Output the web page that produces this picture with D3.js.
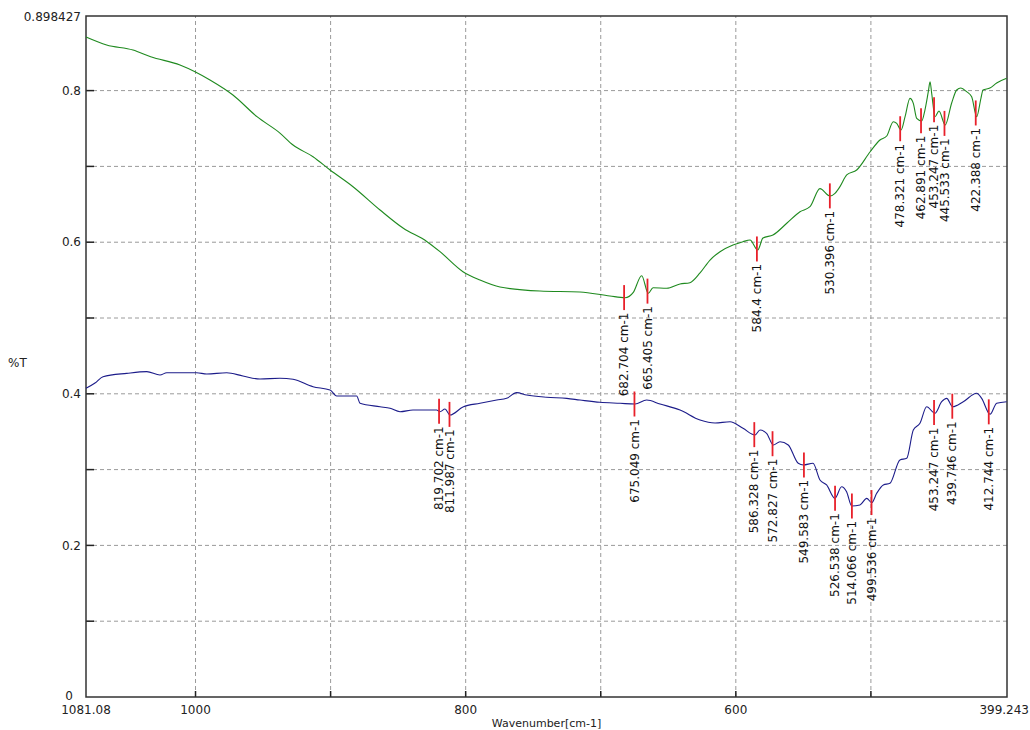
<!DOCTYPE html>
<html>
<head>
<meta charset="utf-8">
<script src="https://cdn.jsdelivr.net/npm/d3@7"></script>
<style>
body { margin: 0; background: #fff; }
svg { display: block; font-family: "DejaVu Sans", Verdana, sans-serif; }
</style>
</head>
<body>
<svg id="chart"></svg>
<script>
// spectra: [wavenumber, %T]
var greenSpectrum = [
  [1081.08,0.8707],[1065.8,0.8602],[1046.3,0.8536],[1033.2,0.8447],[1011.5,0.8338],
  [1000.4,0.8249],[989.3,0.814],[972.3,0.7942],[954.5,0.7656],[937.5,0.744],
  [927.8,0.7282],[913.0,0.7128],[900.4,0.6953],[883.4,0.6732],[863.4,0.6425],
  [846.4,0.6187],[828.6,0.6007],[819.0,0.5875],[802.0,0.5611],[789.4,0.5501],
  [774.6,0.5409],[745.0,0.5356],[715.4,0.5343],[693.2,0.529],[682.0,0.5268],
  [675.9,0.5339],[669.7,0.5558],[664.8,0.5326],[661.3,0.54],[651.2,0.5392],
  [641.3,0.5449],[634.0,0.5466],[626.5,0.5594],[619.1,0.5765],[611.7,0.5875],
  [602.1,0.5963],[594.7,0.6007],[589.5,0.6029],[583.8,0.5897],[579.9,0.6055],
  [572.5,0.6095],[562.1,0.6253],[552.5,0.6402],[545.1,0.6468],[537.7,0.6707],
  [530.3,0.661],[526.6,0.6645],[522.9,0.6733],[517.9,0.6887],[510.5,0.6953],
  [500.7,0.719],[493.3,0.7348],[488.3,0.7401],[483.4,0.759],[480.9,0.7568],
  [477.7,0.748],[474.7,0.7656],[471.1,0.7898],[468.6,0.7832],[466.1,0.7634],
  [462.4,0.7599],[460.0,0.7744],[457.5,0.7986],[456.2,0.8117],[455.0,0.7964],
  [452.5,0.7656],[449.6,0.7731],[445.0,0.7546],[440.2,0.7836],[436.5,0.8008],
  [433.4,0.8034],[429.1,0.7986],[425.4,0.792],[421.7,0.7656],[418.5,0.7902],
  [417.0,0.8008],[411.9,0.8034],[406.9,0.81],[399.5,0.8162]
];
var blueSpectrum = [
  [1081.08,0.4073],[1074.4,0.4142],[1068.5,0.4226],[1050.9,0.427],[1036.1,0.4292],
  [1026.3,0.4248],[1021.3,0.4278],[999.1,0.4278],[991.7,0.4261],[976.9,0.4278],
  [964.9,0.4235],[952.3,0.4195],[937.5,0.4205],[927.8,0.4191],[913.0,0.4094],
  [900.4,0.405],[895.5,0.3971],[880.7,0.3971],[878.2,0.3875],[863.4,0.383],
  [856.0,0.3809],[848.6,0.3764],[839.0,0.3786],[821.5,0.3786],[819.0,0.3764],
  [815.3,0.38],[811.6,0.372],[802.0,0.3826],[789.4,0.3875],[777.0,0.3918],
  [769.7,0.394],[762.3,0.4015],[754.9,0.3984],[740.1,0.3954],[725.2,0.394],
  [715.4,0.3918],[700.6,0.3888],[685.7,0.3875],[674.6,0.3865],[666.0,0.3918],
  [656.1,0.3865],[641.3,0.3786],[626.5,0.3654],[615.4,0.3615],[604.3,0.3632],
  [594.7,0.3545],[585.8,0.3456],[582.1,0.3522],[577.2,0.3479],[572.3,0.3325],
  [567.3,0.3368],[561.2,0.3325],[553.8,0.3083],[550.0,0.3061],[542.9,0.3083],
  [537.7,0.2863],[532.8,0.2797],[526.6,0.2621],[521.7,0.2774],[518.0,0.2708],
  [514.2,0.252],[508.1,0.2533],[503.1,0.2621],[499.4,0.2563],[495.7,0.2687],
  [490.8,0.2797],[485.9,0.2819],[478.5,0.3127],[473.5,0.3149],[468.6,0.3522],
  [463.7,0.3611],[458.7,0.383],[452.6,0.3743],[447.6,0.3896],[443.9,0.394],
  [439.5,0.383],[431.6,0.3896],[421.7,0.4007],[418.0,0.394],[411.8,0.373],
  [406.9,0.3875],[399.5,0.3896]
];
var greenPeaks = [682.704, 665.405, 584.4, 530.396, 478.321, 462.891, 453.247, 445.533, 422.388];
var bluePeaks = [819.702, 811.987, 675.049, 586.328, 572.827, 549.583, 526.538, 514.066, 499.536, 453.247, 439.746, 412.744];
var xTickLabels = [1000, 800, 600];
var xGridValues = [1000, 900, 800, 700, 600, 500];
var yTickLabels = [0.8, 0.6, 0.4, 0.2];
var yGridValues = [0.1, 0.2, 0.3, 0.4, 0.5, 0.6, 0.7, 0.8];
var xDomain = [1081.08, 399.243];
var yDomain = [0, 0.898427];

var screen = {width: 1030, height: 730};
var margins = {top: 16, right: 23, bottom: 33, left: 86};

var svg = d3.select("#chart")
  .attr("width", screen.width)
  .attr("height", screen.height);

var width = screen.width - margins.left - margins.right;
var height = screen.height - margins.top - margins.bottom;

var xScale = d3.scaleLinear().domain(xDomain).range([margins.left, margins.left + width]);
var yScale = d3.scaleLinear().domain(yDomain).range([margins.top + height, margins.top]);

var grid = svg.append("g").attr("class", "grid");
grid.selectAll(".vgrid").data(xGridValues).enter().append("line")
  .attr("x1", function(d) { return xScale(d); })
  .attr("x2", function(d) { return xScale(d); })
  .attr("y1", yScale(yDomain[0])).attr("y2", yScale(yDomain[1]))
  .attr("stroke", "#9a9a9a").attr("stroke-dasharray", "4,3");
grid.selectAll(".hgrid").data(yGridValues).enter().append("line")
  .attr("y1", function(d) { return yScale(d); })
  .attr("y2", function(d) { return yScale(d); })
  .attr("x1", xScale(xDomain[0])).attr("x2", xScale(xDomain[1]))
  .attr("stroke", "#9a9a9a").attr("stroke-dasharray", "4,3");

// inner tick marks
grid.selectAll(".yt").data(yGridValues).enter().append("line")
  .attr("x1", xScale(xDomain[0])).attr("x2", xScale(xDomain[0]) + 8)
  .attr("y1", function(d) { return yScale(d); })
  .attr("y2", function(d) { return yScale(d); })
  .attr("stroke", "#222").attr("stroke-width", 1.5);
grid.selectAll(".xt").data(xGridValues).enter().append("line")
  .attr("y1", yScale(0)).attr("y2", yScale(0) - 6)
  .attr("x1", function(d) { return xScale(d); })
  .attr("x2", function(d) { return xScale(d); })
  .attr("stroke", "#222").attr("stroke-width", 1.5);

svg.append("rect")
  .attr("x", margins.left).attr("y", margins.top)
  .attr("width", width).attr("height", height)
  .attr("fill", "none").attr("stroke", "#333").attr("stroke-width", 1.5);

var line = d3.line()
  .x(function(d) { return xScale(d[0]); })
  .y(function(d) { return yScale(d[1]); })
  .curve(d3.curveMonotoneX);

svg.append("path").datum(greenSpectrum)
  .attr("d", line).attr("fill", "none")
  .attr("stroke", "#1f8a1f").attr("stroke-width", 1.1);
svg.append("path").datum(blueSpectrum)
  .attr("d", line).attr("fill", "none")
  .attr("stroke", "#1c1c8a").attr("stroke-width", 1.1);

// value of a spectrum at some wavenumber (for placing the peak marks)
var valueAt = function(spectrum, w) {
  for (var i = 0; i < spectrum.length - 1; i++) {
    var a = spectrum[i], b = spectrum[i + 1];
    if (w <= a[0] && w >= b[0]) {
      var t = (a[0] - w) / (a[0] - b[0]);
      return a[1] + t * (b[1] - a[1]);
    }
  }
  return spectrum[spectrum.length - 1][1];
};

var drawPeaks = function(spectrum, peaks) {
  var g = svg.append("g");
  var marks = g.selectAll(".peak").data(peaks).enter().append("g").attr("class", "peak");
  marks.append("line")
    .attr("x1", function(d) { return xScale(d); })
    .attr("x2", function(d) { return xScale(d); })
    .attr("y1", function(d) { return yScale(valueAt(spectrum, d)) - 12.5; })
    .attr("y2", function(d) { return yScale(valueAt(spectrum, d)) + 12.5; })
    .attr("stroke", "#e8202a").attr("stroke-width", 1.8);
  marks.append("text")
    .attr("x", function(d) { return xScale(d); })
    .attr("y", function(d) { return yScale(valueAt(spectrum, d)) + 15; })
    .attr("transform", function(d) {
      return "rotate(-90," + xScale(d) + "," + (yScale(valueAt(spectrum, d)) + 15) + ")";
    })
    .attr("dy", "0.35em")
    .attr("text-anchor", "end")
    .attr("font-size", "12px")
    .attr("fill", "#111")
    .text(function(d) { return d + " cm-1"; });
};
drawPeaks(greenSpectrum, greenPeaks);
drawPeaks(blueSpectrum, bluePeaks);

// axis labels
var labels = svg.append("g").attr("font-size", "12px").attr("fill", "#222");
labels.selectAll(".ylab").data(yTickLabels).enter().append("text")
  .attr("x", margins.left - 5)
  .attr("y", function(d) { return yScale(d); })
  .attr("dy", "0.35em").attr("text-anchor", "end")
  .text(function(d) { return d; });
labels.append("text").attr("x", margins.left - 5).attr("y", yScale(yDomain[1]) + 1)
  .attr("dy", "0.35em").attr("text-anchor", "end").text(yDomain[1]);
labels.append("text").attr("x", margins.left - 13).attr("y", yScale(0) - 1)
  .attr("dy", "0.35em").attr("text-anchor", "end").text("0");

labels.selectAll(".xlab").data(xTickLabels).enter().append("text")
  .attr("x", function(d) { return xScale(d); })
  .attr("y", yScale(0) + 17)
  .attr("text-anchor", "middle")
  .text(function(d) { return d; });
labels.append("text").attr("x", xScale(xDomain[0])).attr("y", yScale(0) + 17)
  .attr("text-anchor", "middle").text(xDomain[0]);
labels.append("text").attr("x", screen.width - 1).attr("y", yScale(0) + 17)
  .attr("text-anchor", "end").text(xDomain[1]);

labels.append("text").attr("x", margins.left + width / 2).attr("y", 727)
  .attr("text-anchor", "middle").attr("font-size", "11px").text("Wavenumber[cm-1]");
labels.append("text").attr("x", 8).attr("y", 367).text("%T");
</script>
</body>
</html>
